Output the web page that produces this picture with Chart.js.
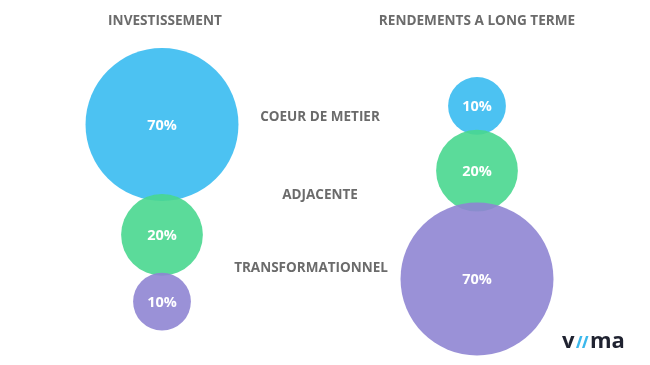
<!DOCTYPE html>
<html>
<head>
<meta charset="utf-8">
<script src="https://cdn.jsdelivr.net/npm/chart.js@4/dist/chart.umd.min.js"></script>
<style>
  html, body { margin: 0; padding: 0; background: #fff; }
</style>
</head>
<body>
<canvas id="bulles" width="650" height="365"></canvas>
<script>
const colonnes = ['INVESTISSEMENT', 'RENDEMENTS A LONG TERME'];
const categories = ['COEUR DE METIER', 'ADJACENTE', 'TRANSFORMATIONNEL'];
const investissement = [70, 20, 10];
const rendements = [10, 20, 70];
const couleurs = ['rgba(56,187,241,0.9)', 'rgba(73,215,143,0.9)', 'rgba(143,133,211,0.9)'];

// mise en page, en pixels
const W = 650, H = 365;
const centresX = [162, 477];
const titresX = [165, 477];
const hautColonnes = [48, 77];
const chevauchement = [[7, 3], [5, 9]];
const etiquettesY = [117, 195, 268];
const echelleRayon = 9.14;
const rayon = v => echelleRayon * Math.sqrt(v);
const gris = '#6b6b6b';
const police = '"Open Sans", sans-serif';

// empile les bulles d'une colonne de haut en bas
const empiler = (valeurs, col) => {
    let y = hautColonnes[col];
    return valeurs.map((v, i) => {
        const r = rayon(v);
        if (i > 0) y -= chevauchement[col][i - 1];
        const p = { x: centresX[col], y: y + r, r: r, v: v };
        y += 2 * r;
        return p;
    });
};

const pilesInv = empiler(investissement, 0);
const pilesRend = empiler(rendements, 1);

const datasets = categories.map((cat, i) => ({
    label: cat,
    data: [pilesInv[i], pilesRend[i]],
    backgroundColor: couleurs[i],
    borderWidth: 0,
    clip: false,
    order: categories.length - i
}));

const textes = {
    id: 'textes',
    afterDatasetsDraw(chart) {
        const ctx = chart.ctx;
        ctx.save();
        ctx.textAlign = 'center';
        ctx.textBaseline = 'middle';

        // pourcentages dans les bulles
        ctx.fillStyle = '#fff';
        ctx.font = 'bold 14.5px ' + police;
        chart.data.datasets.forEach((ds, di) => {
            chart.getDatasetMeta(di).data.forEach((el, j) => {
                ctx.fillText(ds.data[j].v + '%', el.x, el.y + 1);
            });
        });

        // titres des colonnes
        ctx.fillStyle = gris;
        ctx.font = 'bold 13.6px ' + police;
        colonnes.forEach((t, i) => ctx.fillText(t, titresX[i], 21));

        // categories au milieu
        ctx.font = 'bold 13.5px ' + police;
        categories.forEach((t, i) => ctx.fillText(t, i === 2 ? 311 : 320, etiquettesY[i]));

        // logo viima
        ctx.textAlign = 'left';
        ctx.textBaseline = 'alphabetic';
        ctx.font = 'bold 22px ' + police;
        ctx.fillStyle = '#1f2230';
        ctx.fillText('v', 562, 348);
        ctx.fillStyle = '#3bb8ec';
        [576, 582].forEach(x0 => {
            ctx.beginPath();
            ctx.moveTo(x0 + 4, 336);
            ctx.lineTo(x0 + 6.5, 336);
            ctx.lineTo(x0 + 2.5, 348);
            ctx.lineTo(x0, 348);
            ctx.closePath();
            ctx.fill();
        });
        ctx.fillStyle = '#1f2230';
        ctx.fillText('ma', 590, 348);
        ctx.restore();
    }
};

new Chart(document.getElementById('bulles'), {
    type: 'bubble',
    data: { datasets: datasets },
    options: {
        responsive: false,
        animation: false,
        events: [],
        layout: { padding: 0, autoPadding: false },
        plugins: {
            legend: { display: false },
            tooltip: { enabled: false }
        },
        scales: {
            x: { type: 'linear', min: 0, max: W, display: false },
            y: { type: 'linear', min: 0, max: H, reverse: true, display: false }
        }
    },
    plugins: [textes]
});
</script>
</body>
</html>
